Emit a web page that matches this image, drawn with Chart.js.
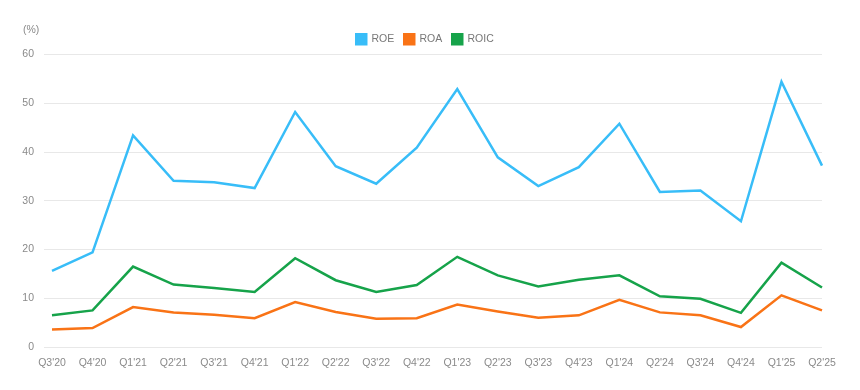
<!DOCTYPE html>
<html><head><meta charset="utf-8">
<script src="https://cdn.jsdelivr.net/npm/chart.js@4"></script>
<style>html,body{margin:0;padding:0;background:#fff;}#wrap{width:860px;height:390px;}</style>
</head><body><div id="wrap"><canvas id="c"></canvas></div>
<script>
const categories = ["Q3'20","Q4'20","Q1'21","Q2'21","Q3'21","Q4'21","Q1'22","Q2'22","Q3'22","Q4'22","Q1'23","Q2'23","Q3'23","Q4'23","Q1'24","Q2'24","Q3'24","Q4'24","Q1'25","Q2'25"];
const roe  = [15.6,19.4,43.4,34.1,33.8,32.6,48.2,37.1,33.5,40.9,52.9,38.9,33.0,36.9,45.8,31.8,32.1,25.8,54.4,37.2];
const roa  = [3.6,3.9,8.2,7.1,6.6,5.9,9.2,7.2,5.8,5.9,8.7,7.3,6.0,6.5,9.7,7.1,6.5,4.1,10.6,7.5];
const roic = [6.5,7.5,16.5,12.8,12.1,11.3,18.2,13.7,11.3,12.7,18.5,14.7,12.4,13.8,14.7,10.4,9.9,7.0,17.3,12.2];
const yTicks = [0,10,20,30,40,50,60];
const unitLabel = "(%)";

const FONT = "'Liberation Sans', Arial, Helvetica, sans-serif";
const unitPlugin = {
  id: 'unitLabel',
  afterDraw(chart) {
    const ctx = chart.ctx;
    ctx.save();
    ctx.font = "10.5px " + FONT;
    ctx.fillStyle = '#8a8a8a';
    ctx.textAlign = 'left';
    ctx.textBaseline = 'middle';
    ctx.fillText(unitLabel, 23, 30);
    ctx.restore();
  }
};

new Chart(document.getElementById('c'), {
  type: 'line',
  data: {
    labels: categories,
    datasets: [
      {label:'ROE', data: roe, borderColor:'#38bdf8', backgroundColor:'#38bdf8', yAxisID:'y'},
      {label:'ROA', data: roa, borderColor:'#f97316', backgroundColor:'#f97316', yAxisID:'y'},
      {label:'ROIC', data: roic, borderColor:'#16a34a', backgroundColor:'#16a34a', yAxisID:'y'}
    ]
  },
  options: {
    responsive: true,
    maintainAspectRatio: false,
    animation: false,
    elements: { line: { borderWidth: 2.5, tension: 0 }, point: { radius: 0 } },
    layout: { padding: { top: 24, right: 10, left: 0, bottom: 0 } },
    plugins: {
      legend: {
        position: 'top',
        labels: { boxWidth: 10, boxHeight: 10, padding: 10, color: '#777', font: { family: FONT, size: 10.5 } }
      },
      tooltip: { enabled: false }
    },
    scales: {
      x: {
        grid: { display: false, drawTicks: false },
        border: { display: false },
        ticks: { color: '#8a8a8a', padding: 10, maxRotation: 0, autoSkip: false, font: { family: FONT, size: 10.5 } },
        afterFit(s) { s.height = 43; }
      },
      y: {
        min: 0, max: 60,
        afterBuildTicks(s) { s.ticks = yTicks.map(v => ({ value: v })); },
        grid: { color: '#e8e8e8', tickLength: 8 },
        border: { display: false },
        ticks: { color: '#8a8a8a', padding: 10, font: { family: FONT, size: 10.5 } },
        afterFit(s) { s.width = 52; }
      },
      yRight: {
        position: 'right',
        display: true,
        grid: { display: false, drawTicks: false },
        border: { display: false },
        ticks: { display: false },
        afterFit(s) { s.width = 28; }
      }
    }
  },
  plugins: [unitPlugin]
});
</script>
</body></html>
